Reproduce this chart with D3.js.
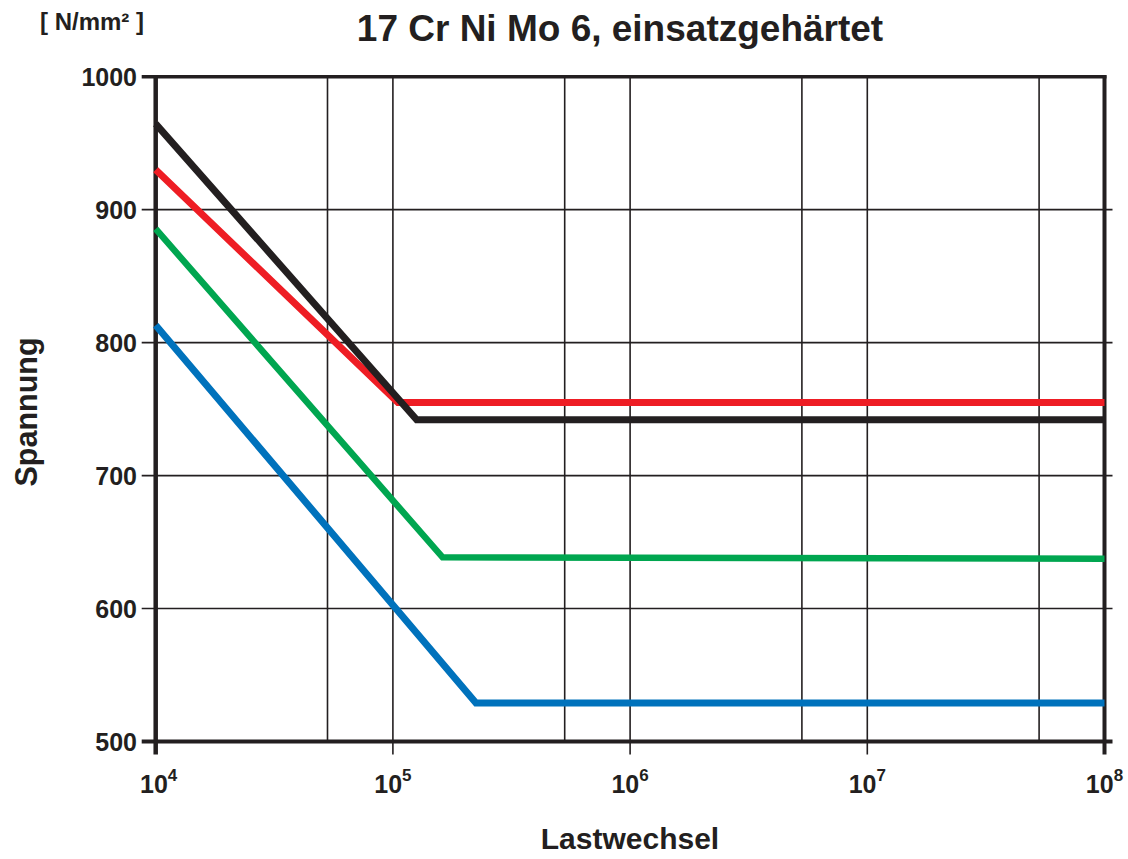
<!DOCTYPE html>
<html>
<head>
<meta charset="utf-8">
<script src="https://cdn.jsdelivr.net/npm/d3@7"></script>
<style>
  html, body { margin: 0; padding: 0; background: #fff; }
  svg { display: block; font-family: "Liberation Sans", Arial, Helvetica, sans-serif; font-weight: bold; }
</style>
</head>
<body>
<svg id="chart" width="1128" height="859"></svg>
<script>
// Wöhler curves, 17 Cr Ni Mo 6 case hardened
const decades = [1e4, 1e5, 1e6, 1e7, 1e8];
const exponents = [4, 5, 6, 7, 8];
const minorGrid = [5.3e4, 5.3e5, 5.3e6, 5.3e7];
const stressTicks = [500, 600, 700, 800, 900, 1000];

const blackCycles = [1e4, 1.26e5, 1e8];
const blackStress = [964.5, 742, 742];
const redCycles = [1e4, 1.05e5, 1e8];
const redStress = [930, 755, 755];
const greenCycles = [1e4, 1.62e5, 1e8];
const greenStress = [885.5, 638.5, 637.5];
const blueCycles = [1e4, 2.24e5, 1e8];
const blueStress = [813, 529, 529];

const series = [
  { color: "#ee1d24", cycles: redCycles, stress: redStress, width: 7 },
  { color: "#231f20", cycles: blackCycles, stress: blackStress, width: 7 },
  { color: "#00a650", cycles: greenCycles, stress: greenStress, width: 6.5 },
  { color: "#0072bc", cycles: blueCycles, stress: blueStress, width: 7 },
];

const ink = "#231f20";
const margin = { left: 155.7, right: 1104.5, top: 76.7, bottom: 741.5 };

const svg = d3.select("#chart");

const x = d3.scaleLog().domain([1e4, 1e8]).range([margin.left, margin.right]);
const y = d3.scaleLinear().domain([500, 1000]).range([margin.bottom, margin.top]);

// minor vertical grid (no tick below axis)
svg.append("g")
  .selectAll("line")
  .data(minorGrid)
  .join("line")
  .attr("x1", d => x(d)).attr("x2", d => x(d))
  .attr("y1", margin.top).attr("y2", margin.bottom)
  .attr("stroke", ink).attr("stroke-width", 1.6);

// decade grid, extends below as tick
svg.append("g")
  .selectAll("line")
  .data(decades.slice(1, -1))
  .join("line")
  .attr("x1", d => x(d)).attr("x2", d => x(d))
  .attr("y1", margin.top).attr("y2", margin.bottom + 13)
  .attr("stroke", ink).attr("stroke-width", 1.6);

// horizontal grid, extends left/right as ticks
svg.append("g")
  .selectAll("line")
  .data(stressTicks.slice(1, -1))
  .join("line")
  .attr("x1", margin.left - 14).attr("x2", margin.right + 8)
  .attr("y1", d => y(d)).attr("y2", d => y(d))
  .attr("stroke", ink).attr("stroke-width", 1.6);

// frame
const frame = svg.append("g").attr("stroke", ink);
frame.append("line")
  .attr("x1", margin.left - 14).attr("x2", margin.right + 2)
  .attr("y1", y(1000)).attr("y2", y(1000)).attr("stroke-width", 3.5);
frame.append("line")
  .attr("x1", margin.left - 14).attr("x2", margin.right + 8)
  .attr("y1", y(500)).attr("y2", y(500)).attr("stroke-width", 4);
frame.append("line")
  .attr("x1", x(1e4)).attr("x2", x(1e4))
  .attr("y1", margin.top - 1.5).attr("y2", margin.bottom + 13).attr("stroke-width", 4.5);
frame.append("line")
  .attr("x1", x(1e8)).attr("x2", x(1e8))
  .attr("y1", margin.top - 1.5).attr("y2", margin.bottom + 13).attr("stroke-width", 4);

// curves
const line = d3.line()
  .x(d => x(d[0]))
  .y(d => y(d[1]));

svg.append("g")
  .selectAll("path")
  .data(series)
  .join("path")
  .attr("d", s => line(d3.zip(s.cycles, s.stress)))
  .attr("fill", "none")
  .attr("stroke", s => s.color)
  .attr("stroke-width", s => s.width)
  .attr("stroke-linejoin", "miter")
  .attr("stroke-linecap", "butt");

// y tick labels
svg.append("g")
  .selectAll("text")
  .data(stressTicks)
  .join("text")
  .attr("x", 137)
  .attr("y", d => y(d))
  .attr("dy", "0.36em")
  .attr("text-anchor", "end")
  .attr("font-size", 25)
  .attr("fill", ink)
  .text(d => d);

// x tick labels 10^n
const xl = svg.append("g")
  .selectAll("text")
  .data(decades)
  .join("text")
  .attr("x", (d, i) => x(d) + (i === 0 ? 3 : 0))
  .attr("y", 793)
  .attr("text-anchor", "middle")
  .attr("font-size", 25)
  .attr("fill", ink);
xl.append("tspan").text("10");
xl.append("tspan")
  .attr("dy", -12)
  .attr("font-size", 17)
  .text((d, i) => exponents[i]);

// titles
svg.append("text")
  .attr("x", 620).attr("y", 41)
  .attr("text-anchor", "middle")
  .attr("font-size", 37)
  .attr("fill", ink)
  .text("17 Cr Ni Mo 6, einsatzgehärtet");

svg.append("text")
  .attr("x", 40).attr("y", 30)
  .attr("font-size", 24)
  .attr("fill", ink)
  .text("[ N/mm² ]");

svg.append("text")
  .attr("transform", "translate(37,412) rotate(-90)")
  .attr("text-anchor", "middle")
  .attr("font-size", 30.5)
  .attr("fill", ink)
  .text("Spannung");

svg.append("text")
  .attr("x", 630).attr("y", 849)
  .attr("text-anchor", "middle")
  .attr("font-size", 30)
  .attr("fill", ink)
  .text("Lastwechsel");
</script>
</body>
</html>
